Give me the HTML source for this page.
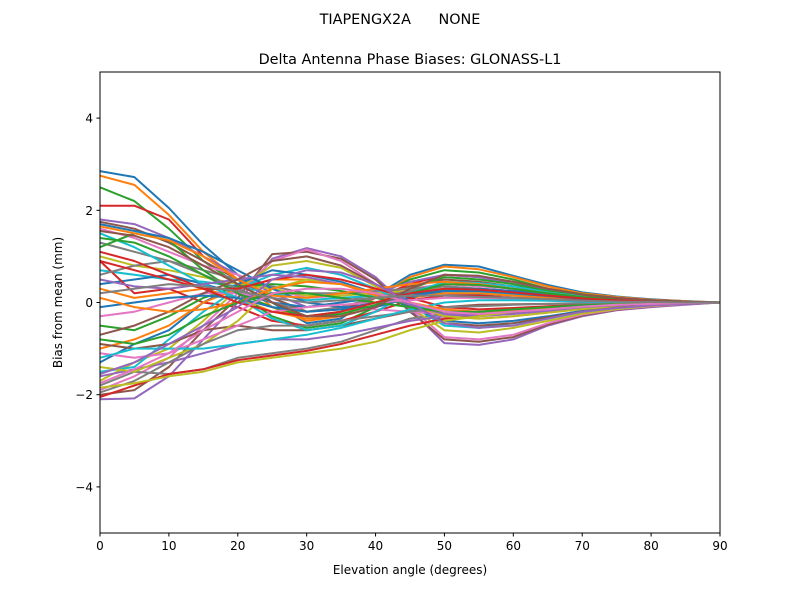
<!DOCTYPE html>
<html><head><meta charset="utf-8"><style>
body{margin:0;background:#fff;}
svg{display:block;font-family:"DejaVu Sans","Liberation Sans",sans-serif;}
</style></head><body>
<svg id="chart" width="800" height="600" xmlns="http://www.w3.org/2000/svg">
<rect width="800" height="600" fill="#fff"/>
<text x="400" y="24" font-size="14.4" text-anchor="middle" style="white-space:pre" xml:space="preserve">TIAPENGX2A      NONE</text>
<text x="410" y="64" font-size="14.4" text-anchor="middle">Delta Antenna Phase Biases: GLONASS-L1</text>
<text x="410" y="574" font-size="12" text-anchor="middle">Elevation angle (degrees)</text>
<text transform="translate(62,302.5) rotate(-90)" font-size="12" text-anchor="middle">Bias from mean (mm)</text>
<g id="plot"></g>
<g id="axes"></g>
</svg>
<script>
const elevations=[0,5,10,15,20,25,30,35,40,45,50,55,60,65,70,75,80,85,90];
const xTicks=[0,10,20,30,40,50,60,70,80,90];
const yTicks=[-4,-2,0,2,4];
const yTickLabels=["\u22124","\u22122","0","2","4"];
const series=[
[2.85,2.72,2.05,1.25,0.6,0.0,-0.45,-0.35,0.15,0.6,0.82,0.78,0.58,0.38,0.22,0.13,0.07,0.03,0],
[2.75,2.55,1.9,1.1,0.5,-0.1,-0.4,-0.3,0.1,0.55,0.78,0.72,0.55,0.35,0.2,0.12,0.06,0.03,0],
[2.5,2.2,1.6,0.9,0.4,0.0,-0.3,-0.2,0.15,0.5,0.7,0.65,0.5,0.3,0.18,0.1,0.05,0.02,0],
[2.1,2.1,1.8,1.0,0.5,0.1,-0.2,-0.15,0.1,0.4,0.6,0.55,0.45,0.3,0.17,0.1,0.05,0.02,0],
[1.8,1.7,1.4,1.0,0.6,0.2,-0.1,0.0,0.2,0.45,0.6,0.55,0.4,0.28,0.16,0.1,0.05,0.02,0],
[1.75,1.6,1.3,0.9,0.5,0.1,-0.2,-0.1,0.1,0.35,0.5,0.45,0.35,0.25,0.15,0.08,0.04,0.02,0],
[1.6,1.4,1.1,0.8,0.6,0.3,0.1,0.15,0.25,0.3,0.4,0.35,0.3,0.22,0.14,0.08,0.04,0.02,0],
[1.3,1.1,0.9,0.7,0.5,0.35,0.2,0.2,0.25,0.3,0.35,0.3,0.25,0.2,0.12,0.07,0.04,0.02,0],
[1.0,0.8,0.7,0.55,0.4,0.3,0.15,0.15,0.2,0.25,0.3,0.28,0.22,0.16,0.1,0.06,0.03,0.01,0],
[0.7,0.6,0.5,0.45,0.35,0.2,0.05,0.1,0.15,0.2,0.25,0.22,0.18,0.14,0.09,0.05,0.03,0.01,0],
[0.4,0.5,0.6,0.4,0.2,0.0,-0.1,0.0,0.1,0.2,0.2,0.18,0.15,0.1,0.07,0.04,0.02,0.01,0],
[0.3,0.1,0.2,0.3,0.1,-0.2,-0.35,-0.3,-0.1,0.1,0.2,0.2,0.15,0.1,0.06,0.04,0.02,0.01,0],
[1.2,1.5,1.35,0.7,0.2,-0.3,-0.55,-0.45,-0.1,0.3,0.55,0.5,0.4,0.25,0.14,0.08,0.04,0.02,0],
[0.9,0.2,0.3,0.0,-0.1,-0.4,-0.5,-0.4,-0.2,0.05,0.15,0.15,0.1,0.07,0.05,0.03,0.02,0.01,0],
[-2.1,-2.08,-1.6,-0.8,0.0,0.95,1.18,1.0,0.55,-0.15,-0.88,-0.92,-0.8,-0.5,-0.3,-0.17,-0.1,-0.05,0],
[-2.0,-1.9,-1.4,-0.6,0.1,1.05,1.1,0.95,0.5,-0.2,-0.8,-0.85,-0.75,-0.48,-0.28,-0.16,-0.09,-0.04,0],
[-1.9,-1.6,-1.2,-0.5,0.2,0.9,1.15,0.9,0.4,-0.1,-0.75,-0.8,-0.7,-0.45,-0.26,-0.15,-0.08,-0.04,0],
[-1.8,-1.5,-1.55,-1.45,-1.2,-1.1,-1.0,-0.85,-0.6,-0.35,-0.25,-0.2,-0.15,-0.1,-0.06,-0.04,-0.02,-0.01,0],
[-1.7,-1.3,-1.0,-0.4,0.3,0.8,0.9,0.75,0.35,-0.1,-0.6,-0.65,-0.55,-0.4,-0.24,-0.14,-0.07,-0.03,0],
[-1.5,-1.4,-0.8,-0.2,0.3,0.6,0.75,0.6,0.3,-0.05,-0.5,-0.55,-0.45,-0.35,-0.2,-0.12,-0.06,-0.03,0],
[-1.3,-0.9,-0.6,0.0,0.4,0.7,0.6,0.45,0.2,-0.1,-0.4,-0.45,-0.4,-0.3,-0.18,-0.1,-0.05,-0.02,0],
[-1.0,-0.8,-0.5,0.0,0.3,0.5,0.5,0.4,0.15,-0.05,-0.3,-0.35,-0.3,-0.22,-0.14,-0.08,-0.04,-0.02,0],
[-0.5,-0.6,-0.3,0.1,0.35,0.4,0.35,0.25,0.1,-0.05,-0.2,-0.25,-0.22,-0.16,-0.1,-0.06,-0.03,-0.01,0],
[-2.05,-1.8,-1.55,-1.45,-1.25,-1.15,-1.05,-0.9,-0.7,-0.5,-0.35,-0.28,-0.2,-0.12,-0.07,-0.04,-0.02,-0.01,0],
[-1.6,-1.45,-1.3,-1.1,-0.9,-0.8,-0.8,-0.7,-0.55,-0.4,-0.3,-0.25,-0.18,-0.12,-0.07,-0.04,-0.02,-0.01,0],
[-0.9,-1.0,-0.9,-0.6,-0.5,-0.6,-0.6,-0.5,-0.35,-0.2,-0.1,-0.05,-0.04,-0.03,-0.02,-0.01,-0.01,0,0],
[-0.3,-0.2,0.0,0.2,0.2,0.1,0.0,-0.1,-0.15,-0.2,-0.25,-0.2,-0.15,-0.1,-0.06,-0.04,-0.02,-0.01,0],
[0.6,0.8,0.9,0.6,0.3,0.0,-0.2,-0.1,0.1,0.25,0.35,0.3,0.25,0.18,0.1,0.06,0.03,0.01,0],
[-1.4,-1.5,-1.2,-0.9,-0.4,0.3,0.5,0.4,0.2,0.0,-0.3,-0.35,-0.3,-0.22,-0.14,-0.08,-0.04,-0.02,0],
[1.5,1.2,0.8,0.4,0.1,-0.35,-0.6,-0.5,-0.2,0.2,0.45,0.42,0.35,0.22,0.13,0.08,0.04,0.02,0],
[1.7,1.55,1.4,1.1,0.7,0.3,0.0,-0.1,-0.1,0.1,0.3,0.3,0.25,0.18,0.1,0.06,0.03,0.01,0],
[1.65,1.5,1.35,1.0,0.5,0.15,0.1,0.2,0.3,0.4,0.45,0.4,0.3,0.2,0.12,0.07,0.03,0.01,0],
[1.4,1.3,1.0,0.6,0.2,-0.1,-0.3,-0.25,-0.05,0.2,0.4,0.38,0.3,0.2,0.12,0.07,0.03,0.01,0],
[0.9,0.7,0.5,0.3,0.3,0.5,0.6,0.5,0.3,0.1,-0.1,-0.15,-0.12,-0.08,-0.05,-0.03,-0.02,-0.01,0],
[0.5,0.35,0.3,0.4,0.5,0.6,0.55,0.4,0.2,-0.05,-0.25,-0.3,-0.25,-0.18,-0.1,-0.06,-0.03,-0.01,0],
[-0.7,-0.5,-0.2,0.2,0.5,0.9,1.0,0.8,0.4,0.0,-0.45,-0.5,-0.45,-0.32,-0.2,-0.11,-0.06,-0.03,0],
[-1.1,-1.2,-1.1,-0.8,-0.5,-0.2,-0.1,-0.05,0.0,0.05,0.1,0.1,0.08,0.05,0.03,0.02,0.01,0,0],
[-1.95,-1.7,-1.3,-0.9,-0.6,-0.5,-0.5,-0.4,-0.3,-0.2,-0.1,-0.08,-0.05,-0.03,-0.02,-0.01,0,0,0],
[-1.85,-1.75,-1.6,-1.5,-1.3,-1.2,-1.1,-1.0,-0.85,-0.6,-0.4,-0.3,-0.2,-0.12,-0.07,-0.04,-0.02,-0.01,0],
[-1.2,-1.0,-1.0,-1.0,-0.9,-0.8,-0.7,-0.55,-0.35,-0.15,0.0,0.05,0.05,0.04,0.02,0.01,0.01,0,0],
[-0.1,0.0,0.1,0.15,0.1,-0.1,-0.2,-0.15,0.0,0.15,0.25,0.25,0.2,0.14,0.08,0.05,0.02,0.01,0],
[0.1,-0.1,-0.2,-0.15,0.0,0.3,0.45,0.4,0.2,0.0,-0.15,-0.2,-0.17,-0.12,-0.08,-0.04,-0.02,-0.01,0],
[-0.8,-0.9,-0.7,-0.3,0.0,0.2,0.2,0.1,0.0,-0.1,-0.2,-0.2,-0.15,-0.1,-0.06,-0.04,-0.02,-0.01,0],
[1.1,0.9,0.6,0.3,0.0,-0.2,-0.3,-0.2,0.0,0.2,0.3,0.28,0.22,0.15,0.09,0.05,0.03,0.01,0],
[-1.55,-1.3,-0.9,-0.5,-0.1,0.5,0.7,0.65,0.4,0.0,-0.45,-0.55,-0.5,-0.35,-0.2,-0.12,-0.06,-0.03,0],
[1.55,1.45,1.2,0.8,0.4,0.0,-0.3,-0.3,-0.1,0.3,0.6,0.58,0.45,0.3,0.17,0.1,0.05,0.02,0],
[-1.75,-1.45,-1.1,-0.6,-0.2,0.2,0.3,0.3,0.2,0.0,-0.2,-0.25,-0.2,-0.15,-0.09,-0.05,-0.03,-0.01,0],
[0.2,0.3,0.4,0.35,0.25,0.1,0.0,0.05,0.1,0.15,0.15,0.12,0.1,0.07,0.04,0.02,0.01,0,0]
];
const colors=["#1f77b4","#ff7f0e","#2ca02c","#d62728","#9467bd","#8c564b","#e377c2","#7f7f7f","#bcbd22","#17becf"];
const L=100,R=720,T=72,B=533;
const xs=v=>L+(v-0)/90*(R-L);
const ys=v=>T+(5-v)/10*(B-T);
const NS="http://www.w3.org/2000/svg";
const plot=document.getElementById('plot'),axes=document.getElementById('axes');
series.forEach((s,i)=>{
  const p=document.createElementNS(NS,'polyline');
  p.setAttribute('points',s.map((v,j)=>xs(elevations[j]).toFixed(1)+','+ys(v).toFixed(1)).join(' '));
  p.setAttribute('fill','none');p.setAttribute('stroke',colors[i%10]);p.setAttribute('stroke-width','2');
  p.setAttribute('stroke-linejoin','round');
  
  
  plot.appendChild(p);
});
const frame=document.createElementNS(NS,'rect');
frame.setAttribute('x',L);frame.setAttribute('y',T);frame.setAttribute('width',R-L);frame.setAttribute('height',B-T);
frame.setAttribute('fill','none');frame.setAttribute('stroke','#000');frame.setAttribute('stroke-width','1');


axes.appendChild(frame);
xTicks.forEach(t=>{
  const l=document.createElementNS(NS,'line');
  l.setAttribute('x1',xs(t));l.setAttribute('x2',xs(t));l.setAttribute('y1',B);l.setAttribute('y2',B+3.5);l.setAttribute('stroke','#000');
  
  
  axes.appendChild(l);
  const tx=document.createElementNS(NS,'text');
  tx.setAttribute('x',xs(t));tx.setAttribute('y',B+17);tx.setAttribute('font-size','12');tx.setAttribute('text-anchor','middle');
  tx.textContent=t;
  
  
  axes.appendChild(tx);
});
yTicks.forEach((t,i)=>{
  const l=document.createElementNS(NS,'line');
  l.setAttribute('x1',L-3.5);l.setAttribute('x2',L);l.setAttribute('y1',ys(t));l.setAttribute('y2',ys(t));l.setAttribute('stroke','#000');
  
  
  axes.appendChild(l);
  const tx=document.createElementNS(NS,'text');
  tx.setAttribute('x',L-7);tx.setAttribute('y',ys(t)+4.5);tx.setAttribute('font-size','12');tx.setAttribute('text-anchor','end');
  tx.textContent=yTickLabels[i];
  
  
  axes.appendChild(tx);
});
</script>
</body></html>
